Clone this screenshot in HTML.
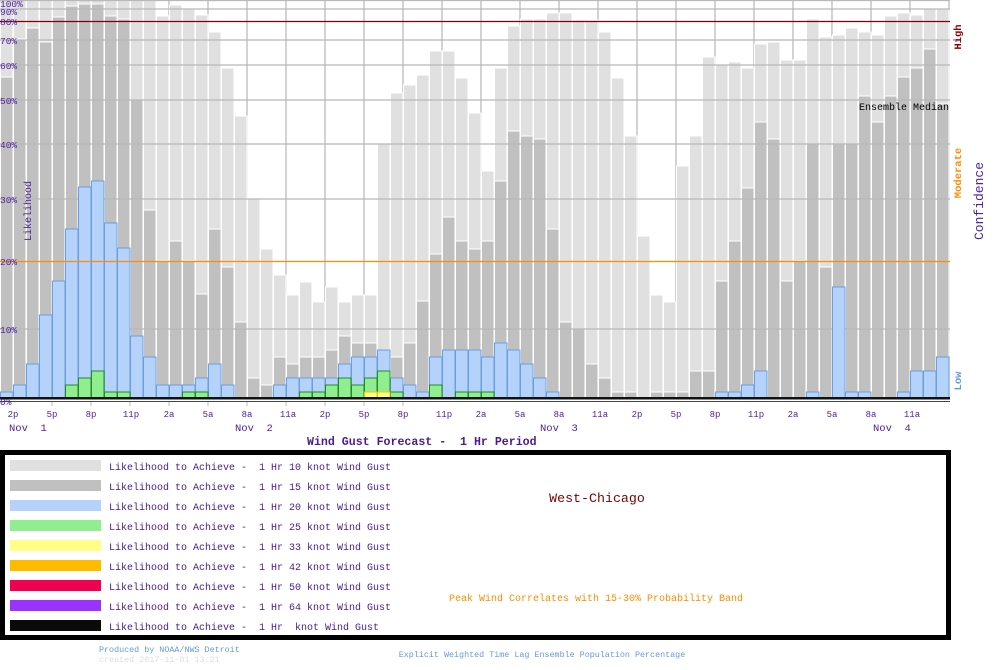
<!DOCTYPE html>
<html><head><meta charset="utf-8"><style>
html,body{margin:0;padding:0;background:#fff;}
svg{display:block;font-family:"Liberation Mono",monospace;}
text{white-space:pre;}
.l{fill:#e0e0e0;stroke:#fff;stroke-width:1}
.d{fill:#c0c0c0;stroke:#fff;stroke-width:1}
.b{fill:#b5d3fa;stroke:#6b9ee0;stroke-width:1}
.g{fill:#90ee90;stroke:#228b22;stroke-width:1}
.y{fill:#ffff88;stroke:#f0c000;stroke-width:1}
</style></head><body>
<svg width="1000" height="670" xmlns="http://www.w3.org/2000/svg">
<rect width="1000" height="670" fill="#fff"/>
<g stroke="#bbb" stroke-width="1.3">
<line x1="13" y1="0" x2="13" y2="399"/><line x1="52" y1="0" x2="52" y2="399"/><line x1="91" y1="0" x2="91" y2="399"/><line x1="130" y1="0" x2="130" y2="399"/><line x1="169" y1="0" x2="169" y2="399"/><line x1="208" y1="0" x2="208" y2="399"/><line x1="247" y1="0" x2="247" y2="399"/><line x1="286" y1="0" x2="286" y2="399"/><line x1="325" y1="0" x2="325" y2="399"/><line x1="364" y1="0" x2="364" y2="399"/><line x1="403" y1="0" x2="403" y2="399"/><line x1="442" y1="0" x2="442" y2="399"/><line x1="481" y1="0" x2="481" y2="399"/><line x1="520" y1="0" x2="520" y2="399"/><line x1="559" y1="0" x2="559" y2="399"/><line x1="598" y1="0" x2="598" y2="399"/><line x1="637" y1="0" x2="637" y2="399"/><line x1="676" y1="0" x2="676" y2="399"/><line x1="715" y1="0" x2="715" y2="399"/><line x1="754" y1="0" x2="754" y2="399"/><line x1="793" y1="0" x2="793" y2="399"/><line x1="832" y1="0" x2="832" y2="399"/><line x1="871" y1="0" x2="871" y2="399"/><line x1="910" y1="0" x2="910" y2="399"/><line x1="949" y1="0" x2="949" y2="399"/>
</g>
<g class="l">
<rect x="0.5" y="0" width="12.5" height="398"/><rect x="13.5" y="0" width="12.5" height="398"/><rect x="26.5" y="0" width="12.5" height="398"/><rect x="39.5" y="0" width="12.5" height="398"/><rect x="52.5" y="0" width="12.5" height="398"/><rect x="65.5" y="0" width="12.5" height="398"/><rect x="78.5" y="0" width="12.5" height="398"/><rect x="91.5" y="0" width="12.5" height="398"/><rect x="104.5" y="0" width="12.5" height="398"/><rect x="117.5" y="0" width="12.5" height="398"/><rect x="130.5" y="0" width="12.5" height="398"/><rect x="143.5" y="0" width="12.5" height="398"/>
<rect x="156.5" y="16" width="12.5" height="382"/><rect x="169.5" y="5" width="12.5" height="393"/><rect x="182.5" y="9" width="12.5" height="389"/><rect x="195.5" y="15" width="12.5" height="383"/><rect x="208.5" y="32" width="12.5" height="366"/><rect x="221.5" y="68" width="12.5" height="330"/><rect x="234.5" y="116" width="12.5" height="282"/><rect x="247.5" y="199" width="12.5" height="199"/><rect x="260.5" y="249" width="12.5" height="149"/><rect x="273.5" y="275" width="12.5" height="123"/><rect x="286.5" y="295" width="12.5" height="103"/><rect x="299.5" y="282" width="12.5" height="116"/><rect x="312.5" y="302" width="12.5" height="96"/><rect x="325.5" y="287" width="12.5" height="111"/><rect x="338.5" y="302" width="12.5" height="96"/><rect x="351.5" y="295" width="12.5" height="103"/><rect x="364.5" y="295" width="12.5" height="103"/><rect x="377.5" y="144" width="12.5" height="254"/><rect x="390.5" y="93" width="12.5" height="305"/><rect x="403.5" y="85" width="12.5" height="313"/><rect x="416.5" y="75" width="12.5" height="323"/><rect x="429.5" y="51" width="12.5" height="347"/><rect x="442.5" y="51" width="12.5" height="347"/><rect x="455.5" y="78" width="12.5" height="320"/><rect x="468.5" y="113" width="12.5" height="285"/><rect x="481.5" y="171" width="12.5" height="227"/><rect x="494.5" y="68" width="12.5" height="330"/><rect x="507.5" y="26" width="12.5" height="372"/><rect x="520.5" y="19" width="12.5" height="379"/><rect x="533.5" y="19" width="12.5" height="379"/><rect x="546.5" y="13" width="12.5" height="385"/><rect x="559.5" y="13" width="12.5" height="385"/><rect x="572.5" y="20" width="12.5" height="378"/><rect x="585.5" y="20" width="12.5" height="378"/><rect x="598.5" y="32" width="12.5" height="366"/><rect x="611.5" y="78" width="12.5" height="320"/><rect x="624.5" y="136" width="12.5" height="262"/><rect x="637.5" y="236" width="12.5" height="162"/><rect x="650.5" y="295" width="12.5" height="103"/><rect x="663.5" y="302" width="12.5" height="96"/><rect x="676.5" y="166" width="12.5" height="232"/><rect x="689.5" y="136" width="12.5" height="262"/><rect x="702.5" y="57" width="12.5" height="341"/><rect x="715.5" y="64" width="12.5" height="334"/><rect x="728.5" y="62" width="12.5" height="336"/><rect x="741.5" y="68" width="12.5" height="330"/><rect x="754.5" y="44" width="12.5" height="354"/><rect x="767.5" y="42" width="12.5" height="356"/><rect x="780.5" y="60" width="12.5" height="338"/><rect x="793.5" y="60" width="12.5" height="338"/><rect x="806.5" y="19" width="12.5" height="379"/><rect x="819.5" y="37" width="12.5" height="361"/><rect x="832.5" y="35" width="12.5" height="363"/><rect x="845.5" y="28" width="12.5" height="370"/><rect x="858.5" y="32" width="12.5" height="366"/><rect x="871.5" y="35" width="12.5" height="363"/><rect x="884.5" y="16" width="12.5" height="382"/><rect x="897.5" y="13" width="12.5" height="385"/><rect x="910.5" y="15" width="12.5" height="383"/><rect x="923.5" y="9" width="12.5" height="389"/><rect x="936.5" y="9" width="12.5" height="389"/>
</g>
<g class="d">
<rect x="0.5" y="77" width="12.5" height="321"/><rect x="13.5" y="39" width="12.5" height="359"/><rect x="26.5" y="28" width="12.5" height="370"/><rect x="39.5" y="42" width="12.5" height="356"/><rect x="52.5" y="17" width="12.5" height="381"/><rect x="65.5" y="6" width="12.5" height="392"/><rect x="78.5" y="4" width="12.5" height="394"/><rect x="91.5" y="4" width="12.5" height="394"/><rect x="104.5" y="16" width="12.5" height="382"/><rect x="117.5" y="19" width="12.5" height="379"/><rect x="130.5" y="100" width="12.5" height="298"/><rect x="143.5" y="210" width="12.5" height="188"/><rect x="156.5" y="261" width="12.5" height="137"/><rect x="169.5" y="241" width="12.5" height="157"/><rect x="182.5" y="261" width="12.5" height="137"/><rect x="195.5" y="294" width="12.5" height="104"/><rect x="208.5" y="229" width="12.5" height="169"/><rect x="221.5" y="267" width="12.5" height="131"/><rect x="234.5" y="322" width="12.5" height="76"/><rect x="247.5" y="378" width="12.5" height="20"/><rect x="260.5" y="385" width="12.5" height="13"/><rect x="273.5" y="357" width="12.5" height="41"/><rect x="286.5" y="364" width="12.5" height="34"/><rect x="299.5" y="357" width="12.5" height="41"/><rect x="312.5" y="357" width="12.5" height="41"/><rect x="325.5" y="350" width="12.5" height="48"/><rect x="338.5" y="336" width="12.5" height="62"/><rect x="351.5" y="343" width="12.5" height="55"/><rect x="364.5" y="343" width="12.5" height="55"/><rect x="377.5" y="350" width="12.5" height="48"/><rect x="390.5" y="357" width="12.5" height="41"/><rect x="403.5" y="343" width="12.5" height="55"/><rect x="416.5" y="301" width="12.5" height="97"/><rect x="429.5" y="254" width="12.5" height="144"/><rect x="442.5" y="217" width="12.5" height="181"/><rect x="455.5" y="241" width="12.5" height="157"/><rect x="468.5" y="249" width="12.5" height="149"/><rect x="481.5" y="241" width="12.5" height="157"/><rect x="494.5" y="181" width="12.5" height="217"/><rect x="507.5" y="131" width="12.5" height="267"/><rect x="520.5" y="136" width="12.5" height="262"/><rect x="533.5" y="139" width="12.5" height="259"/><rect x="546.5" y="229" width="12.5" height="169"/><rect x="559.5" y="322" width="12.5" height="76"/><rect x="572.5" y="329" width="12.5" height="69"/><rect x="585.5" y="364" width="12.5" height="34"/><rect x="598.5" y="378" width="12.5" height="20"/><rect x="611.5" y="392" width="12.5" height="6"/><rect x="624.5" y="392" width="12.5" height="6"/><rect x="650.5" y="392" width="12.5" height="6"/><rect x="663.5" y="392" width="12.5" height="6"/><rect x="676.5" y="392" width="12.5" height="6"/><rect x="689.5" y="371" width="12.5" height="27"/><rect x="702.5" y="371" width="12.5" height="27"/><rect x="715.5" y="281" width="12.5" height="117"/><rect x="728.5" y="241" width="12.5" height="157"/><rect x="741.5" y="188" width="12.5" height="210"/><rect x="754.5" y="122" width="12.5" height="276"/><rect x="767.5" y="139" width="12.5" height="259"/><rect x="780.5" y="281" width="12.5" height="117"/><rect x="793.5" y="261" width="12.5" height="137"/><rect x="806.5" y="144" width="12.5" height="254"/><rect x="819.5" y="267" width="12.5" height="131"/><rect x="832.5" y="144" width="12.5" height="254"/><rect x="845.5" y="144" width="12.5" height="254"/><rect x="858.5" y="96" width="12.5" height="302"/><rect x="871.5" y="122" width="12.5" height="276"/><rect x="884.5" y="96" width="12.5" height="302"/><rect x="897.5" y="77" width="12.5" height="321"/><rect x="910.5" y="68" width="12.5" height="330"/><rect x="923.5" y="49" width="12.5" height="349"/><rect x="936.5" y="104" width="12.5" height="294"/>
</g>
<g stroke="#b8b8b8" stroke-width="1.3">
<line x1="0" x2="950" y1="0.5" y2="0.5"/><line x1="0" x2="950" y1="9" y2="9"/><line x1="0" x2="950" y1="40" y2="40"/><line x1="0" x2="950" y1="65" y2="65"/><line x1="0" x2="950" y1="100" y2="100"/><line x1="0" x2="950" y1="144" y2="144"/><line x1="0" x2="950" y1="199" y2="199"/><line x1="0" x2="950" y1="329" y2="329"/>
</g>
<g class="b">
<rect x="0.5" y="392" width="12.5" height="6"/><rect x="13.5" y="385" width="12.5" height="13"/><rect x="26.5" y="364" width="12.5" height="34"/><rect x="39.5" y="315" width="12.5" height="83"/><rect x="52.5" y="281" width="12.5" height="117"/><rect x="65.5" y="229" width="12.5" height="169"/><rect x="78.5" y="187" width="12.5" height="211"/><rect x="91.5" y="181" width="12.5" height="217"/><rect x="104.5" y="223" width="12.5" height="175"/><rect x="117.5" y="248" width="12.5" height="150"/><rect x="130.5" y="336" width="12.5" height="62"/><rect x="143.5" y="357" width="12.5" height="41"/><rect x="156.5" y="385" width="12.5" height="13"/><rect x="169.5" y="385" width="12.5" height="13"/><rect x="182.5" y="385" width="12.5" height="13"/><rect x="195.5" y="378" width="12.5" height="20"/><rect x="208.5" y="364" width="12.5" height="34"/><rect x="221.5" y="385" width="12.5" height="13"/>
<rect x="273.5" y="385" width="12.5" height="13"/><rect x="286.5" y="378" width="12.5" height="20"/><rect x="299.5" y="378" width="12.5" height="20"/><rect x="312.5" y="378" width="12.5" height="20"/><rect x="325.5" y="378" width="12.5" height="20"/><rect x="338.5" y="364" width="12.5" height="34"/><rect x="351.5" y="357" width="12.5" height="41"/><rect x="364.5" y="357" width="12.5" height="41"/><rect x="377.5" y="350" width="12.5" height="48"/><rect x="390.5" y="378" width="12.5" height="20"/><rect x="403.5" y="385" width="12.5" height="13"/><rect x="416.5" y="392" width="12.5" height="6"/><rect x="429.5" y="357" width="12.5" height="41"/><rect x="442.5" y="350" width="12.5" height="48"/><rect x="455.5" y="350" width="12.5" height="48"/><rect x="468.5" y="350" width="12.5" height="48"/><rect x="481.5" y="357" width="12.5" height="41"/><rect x="494.5" y="343" width="12.5" height="55"/><rect x="507.5" y="350" width="12.5" height="48"/><rect x="520.5" y="364" width="12.5" height="34"/><rect x="533.5" y="378" width="12.5" height="20"/><rect x="546.5" y="392" width="12.5" height="6"/>
<rect x="715.5" y="392" width="12.5" height="6"/><rect x="728.5" y="392" width="12.5" height="6"/><rect x="741.5" y="385" width="12.5" height="13"/><rect x="754.5" y="371" width="12.5" height="27"/><rect x="806.5" y="392" width="12.5" height="6"/><rect x="832.5" y="287" width="12.5" height="111"/><rect x="845.5" y="392" width="12.5" height="6"/><rect x="858.5" y="392" width="12.5" height="6"/><rect x="897.5" y="392" width="12.5" height="6"/><rect x="910.5" y="371" width="12.5" height="27"/><rect x="923.5" y="371" width="12.5" height="27"/><rect x="936.5" y="357" width="12.5" height="41"/>
</g>
<g class="g">
<rect x="65.5" y="385" width="12.5" height="13"/><rect x="78.5" y="378" width="12.5" height="20"/><rect x="91.5" y="371" width="12.5" height="27"/><rect x="104.5" y="392" width="12.5" height="6"/><rect x="117.5" y="392" width="12.5" height="6"/><rect x="182.5" y="392" width="12.5" height="6"/><rect x="195.5" y="392" width="12.5" height="6"/><rect x="299.5" y="392" width="12.5" height="6"/><rect x="312.5" y="392" width="12.5" height="6"/><rect x="325.5" y="385" width="12.5" height="13"/><rect x="338.5" y="378" width="12.5" height="20"/><rect x="351.5" y="385" width="12.5" height="13"/><rect x="364.5" y="378" width="12.5" height="20"/><rect x="377.5" y="371" width="12.5" height="27"/><rect x="390.5" y="392" width="12.5" height="6"/><rect x="429.5" y="385" width="12.5" height="13"/><rect x="455.5" y="392" width="12.5" height="6"/><rect x="468.5" y="392" width="12.5" height="6"/><rect x="481.5" y="392" width="12.5" height="6"/>
</g>
<g class="y">
<rect x="364.5" y="392" width="12.5" height="6"/><rect x="377.5" y="392" width="12.5" height="6"/>
</g>
<line x1="0" x2="950" y1="21.5" y2="21.5" stroke="#800000" stroke-width="1.3"/>
<line x1="0" x2="950" y1="261.5" y2="261.5" stroke="#ff8c00" stroke-width="1.3"/>
<rect x="0" y="397" width="950" height="2.5" fill="#111"/>
<line x1="0" x2="950" y1="401.5" y2="401.5" stroke="#444" stroke-width="1"/>
<g stroke="#bbb" stroke-width="1">
<line x1="52" x2="52" y1="402" y2="406"/><line x1="91" x2="91" y1="402" y2="406"/><line x1="130" x2="130" y1="402" y2="406"/><line x1="169" x2="169" y1="402" y2="406"/><line x1="208" x2="208" y1="402" y2="406"/><line x1="247" x2="247" y1="402" y2="406"/><line x1="286" x2="286" y1="402" y2="406"/><line x1="325" x2="325" y1="402" y2="406"/><line x1="364" x2="364" y1="402" y2="406"/><line x1="403" x2="403" y1="402" y2="406"/>
</g>
<g fill="#5020a0" font-size="9.5">
<text x="0" y="7">100%</text><text x="0" y="15">90%</text><text x="0" y="25">80%</text><text x="0" y="44">70%</text><text x="0" y="69">60%</text><text x="0" y="104">50%</text><text x="0" y="148">40%</text><text x="0" y="203">30%</text><text x="0" y="265">20%</text><text x="0" y="333">10%</text><text x="0" y="405">0%</text>
</g>
<g fill="#5020a0" font-size="9" text-anchor="middle">
<text x="13" y="417">2p</text><text x="52" y="417">5p</text><text x="91" y="417">8p</text><text x="131" y="417">11p</text><text x="169" y="417">2a</text><text x="208" y="417">5a</text><text x="247" y="417">8a</text><text x="288" y="417">11a</text>
<text x="325" y="417">2p</text><text x="364" y="417">5p</text><text x="403" y="417">8p</text><text x="444" y="417">11p</text><text x="481" y="417">2a</text><text x="520" y="417">5a</text><text x="559" y="417">8a</text><text x="600" y="417">11a</text>
<text x="637" y="417">2p</text><text x="676" y="417">5p</text><text x="715" y="417">8p</text><text x="756" y="417">11p</text><text x="793" y="417">2a</text><text x="832" y="417">5a</text><text x="871" y="417">8a</text><text x="912" y="417">11a</text>
</g>
<g fill="#5020a0" font-size="10.5">
<text x="9" y="431">Nov  1</text><text x="235" y="431">Nov  2</text><text x="540" y="431">Nov  3</text><text x="873" y="431">Nov  4</text>
</g>
<text x="307" y="445" fill="#4a1a90" font-size="11.6" font-weight="bold">Wind Gust Forecast -  1 Hr Period</text>
<text x="859" y="110" fill="#000" font-size="10">Ensemble Median</text>
<text transform="translate(31,211) rotate(-90)" text-anchor="middle" fill="#5020a0" font-size="10">Likelihood</text>
<text transform="translate(961,37) rotate(-90)" text-anchor="middle" fill="#8b0000" font-size="10.5" font-weight="bold">High</text>
<text transform="translate(961,173) rotate(-90)" text-anchor="middle" fill="#ff8c00" font-size="10.5" font-weight="bold">Moderate</text>
<text transform="translate(961,381) rotate(-90)" text-anchor="middle" fill="#6699dd" font-size="10.5" font-weight="bold">Low</text>
<text transform="translate(983,201) rotate(-90)" text-anchor="middle" fill="#5020a0" font-size="13">Confidence</text>
<rect x="2.5" y="452.5" width="946" height="185" fill="#fff" stroke="#000" stroke-width="5"/>
<g>
<rect x="10" y="460" width="91" height="11" fill="#e0e0e0"/>
<rect x="10" y="480" width="91" height="11" fill="#c0c0c0"/>
<rect x="10" y="500" width="91" height="11" fill="#b5d3fa"/>
<rect x="10" y="520" width="91" height="11" fill="#90ee90"/>
<rect x="10" y="540" width="91" height="11" fill="#ffff88"/>
<rect x="10" y="560" width="91" height="11" fill="#ffbb00"/>
<rect x="10" y="580" width="91" height="11" fill="#f00050"/>
<rect x="10" y="600" width="91" height="11" fill="#9933ff"/>
<rect x="10" y="620" width="91" height="11" fill="#0a0a0a"/>
</g>
<g fill="#4a1a90" font-size="10">
<text x="109" y="470">Likelihood to Achieve -  1 Hr 10 knot Wind Gust</text>
<text x="109" y="490">Likelihood to Achieve -  1 Hr 15 knot Wind Gust</text>
<text x="109" y="510">Likelihood to Achieve -  1 Hr 20 knot Wind Gust</text>
<text x="109" y="530">Likelihood to Achieve -  1 Hr 25 knot Wind Gust</text>
<text x="109" y="550">Likelihood to Achieve -  1 Hr 33 knot Wind Gust</text>
<text x="109" y="570">Likelihood to Achieve -  1 Hr 42 knot Wind Gust</text>
<text x="109" y="590">Likelihood to Achieve -  1 Hr 50 knot Wind Gust</text>
<text x="109" y="610">Likelihood to Achieve -  1 Hr 64 knot Wind Gust</text>
<text x="109" y="630">Likelihood to Achieve -  1 Hr  knot Wind Gust</text>
</g>
<text x="597" y="502" text-anchor="middle" fill="#800000" font-size="13.3">West-Chicago</text>
<text x="596" y="601" text-anchor="middle" fill="#ff8c00" font-size="10">Peak Wind Correlates with 15-30% Probability Band</text>
<text x="99" y="652" fill="#6699dd" font-size="8.4">Produced by NOAA/NWS Detroit</text>
<text x="99" y="662" fill="#dddddd" font-size="8.4">created 2017-11-01 13:21</text>
<text x="542" y="657" text-anchor="middle" fill="#6699dd" font-size="8.4">Explicit Weighted Time Lag Ensemble Population Percentage</text>
</svg>
</body></html>
